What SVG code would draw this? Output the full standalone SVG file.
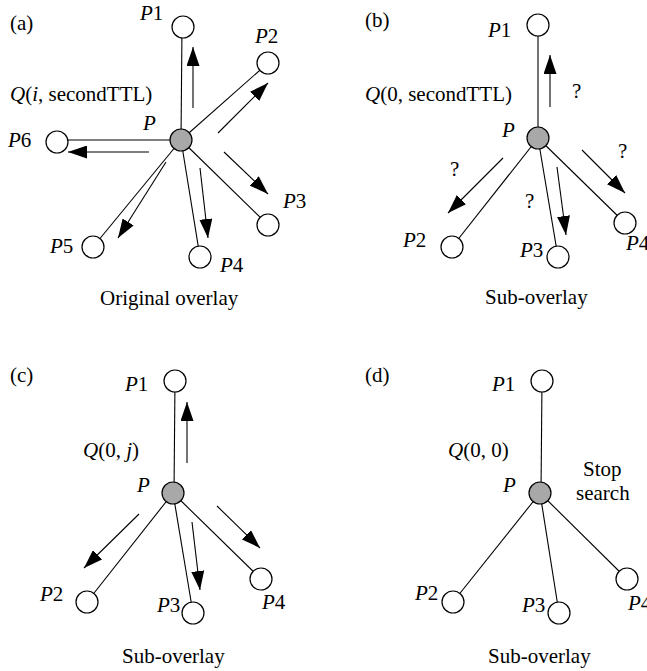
<svg xmlns="http://www.w3.org/2000/svg" width="647" height="671" viewBox="0 0 647 671">
  <defs>
    <marker id="head" markerUnits="userSpaceOnUse" markerWidth="19" markerHeight="13" refX="19" refY="6.5" orient="auto">
      <path d="M0,0 L19,6.5 L0,13 Z" fill="#000"/>
    </marker>
  </defs>
  <style>
    text { font-family: 'Liberation Serif', 'DejaVu Serif', serif; font-size: 21px; fill: #000; }
    .it { font-style: italic; }
    .edge { stroke: #000; stroke-width: 1.1; fill: none; }
    .msg { stroke: #000; stroke-width: 1.1; fill: none; marker-end: url(#head); }
    .peer { fill: #fff; stroke: #000; stroke-width: 1.2; }
    .hub { fill: #a8a8a8; stroke: #000; stroke-width: 1.2; }
  </style>
  <rect width="647" height="671" fill="#fff"/>

  <!-- (a) Original overlay -->
  <g id="panel-a" font-family="Liberation Serif, serif">
    <g id="a-connectors">
      <line class="edge" x1="181" y1="140" x2="182" y2="27"/>
      <line class="edge" x1="181" y1="140" x2="268" y2="63"/>
      <line class="edge" x1="181" y1="140" x2="57" y2="140"/>
      <line class="edge" x1="181" y1="140" x2="268" y2="225"/>
      <line class="edge" x1="181" y1="140" x2="200" y2="257"/>
      <line class="edge" x1="181" y1="140" x2="93" y2="247"/>
      <line class="msg" x1="193" y1="108" x2="193" y2="47"/>
      <line class="msg" x1="218" y1="133" x2="268" y2="83"/>
      <line class="msg" x1="149" y1="152" x2="68" y2="152"/>
      <line class="msg" x1="224" y1="152" x2="268" y2="194"/>
      <line class="msg" x1="200" y1="168" x2="208" y2="238"/>
      <line class="msg" x1="166" y1="162" x2="118" y2="238"/>
    </g>
    <g id="a-P"><circle class="hub" cx="181" cy="140" r="11"/><text class="it" x="143" y="130">P</text></g>
    <g id="a-P1"><circle class="peer" cx="183" cy="27" r="11"/><text x="140" y="20"><tspan class="it">P</tspan>1</text></g>
    <g id="a-P2"><circle class="peer" cx="268" cy="63" r="11"/><text x="255" y="43"><tspan class="it">P</tspan>2</text></g>
    <g id="a-P3"><circle class="peer" cx="268" cy="225" r="11"/><text x="283" y="208"><tspan class="it">P</tspan>3</text></g>
    <g id="a-P4"><circle class="peer" cx="200" cy="257" r="11"/><text x="220" y="272"><tspan class="it">P</tspan>4</text></g>
    <g id="a-P5"><circle class="peer" cx="93" cy="247" r="11"/><text x="50" y="253"><tspan class="it">P</tspan>5</text></g>
    <g id="a-P6"><circle class="peer" cx="57" cy="142" r="11"/><text x="8" y="147"><tspan class="it">P</tspan>6</text></g>
    <text x="10" y="30">(a)</text>
    <text x="10" y="101"><tspan class="it">Q</tspan>(<tspan class="it">i</tspan>, secondTTL)</text>
    <text x="100" y="305">Original overlay</text>
  </g>

  <!-- (b) Sub-overlay, second TTL -->
  <g id="panel-b">
    <g id="b-connectors">
      <line class="edge" x1="538" y1="138" x2="538" y2="25"/>
      <line class="edge" x1="538" y1="138" x2="452" y2="247"/>
      <line class="edge" x1="538" y1="138" x2="558" y2="257"/>
      <line class="edge" x1="538" y1="138" x2="625" y2="223"/>
      <line class="msg" x1="550" y1="107" x2="550" y2="55"/>
      <line class="msg" x1="503" y1="158" x2="448" y2="213"/>
      <line class="msg" x1="557" y1="167" x2="566" y2="235"/>
      <line class="msg" x1="582" y1="150" x2="625" y2="193"/>
    </g>
    <g id="b-P"><circle class="hub" cx="538" cy="138" r="11"/><text class="it" x="502" y="137">P</text></g>
    <g id="b-P1"><circle class="peer" cx="538" cy="25" r="11"/><text x="488" y="37"><tspan class="it">P</tspan>1</text></g>
    <g id="b-P2"><circle class="peer" cx="452" cy="247" r="11"/><text x="403" y="247"><tspan class="it">P</tspan>2</text></g>
    <g id="b-P3"><circle class="peer" cx="558" cy="257" r="11"/><text x="520" y="257"><tspan class="it">P</tspan>3</text></g>
    <g id="b-P4"><circle class="peer" cx="625" cy="223" r="11"/><text x="626" y="250"><tspan class="it">P</tspan>4</text></g>
    <text x="365" y="27">(b)</text>
    <text x="365" y="101"><tspan class="it">Q</tspan>(0, secondTTL)</text>
    <text x="572" y="98">?</text>
    <text x="450" y="176">?</text>
    <text x="525" y="208">?</text>
    <text x="618" y="158">?</text>
    <text x="485" y="304">Sub-overlay</text>
  </g>

  <!-- (c) Sub-overlay, TTL j -->
  <g id="panel-c">
    <g id="c-connectors">
      <line class="edge" x1="174" y1="493" x2="175" y2="381"/>
      <line class="edge" x1="173" y1="493" x2="87" y2="602"/>
      <line class="edge" x1="173" y1="493" x2="193" y2="613"/>
      <line class="edge" x1="173" y1="493" x2="261" y2="579"/>
      <line class="msg" x1="187" y1="463" x2="187" y2="402"/>
      <line class="msg" x1="139" y1="514" x2="84" y2="568"/>
      <line class="msg" x1="192" y1="522" x2="200" y2="590"/>
      <line class="msg" x1="217" y1="506" x2="260" y2="548"/>
    </g>
    <g id="c-P"><circle class="hub" cx="173" cy="493" r="11"/><text class="it" x="137" y="492">P</text></g>
    <g id="c-P1"><circle class="peer" cx="175" cy="381" r="11"/><text x="125" y="391"><tspan class="it">P</tspan>1</text></g>
    <g id="c-P2"><circle class="peer" cx="87" cy="602" r="11"/><text x="40" y="601"><tspan class="it">P</tspan>2</text></g>
    <g id="c-P3"><circle class="peer" cx="193" cy="613" r="11"/><text x="157" y="612"><tspan class="it">P</tspan>3</text></g>
    <g id="c-P4"><circle class="peer" cx="261" cy="579" r="11"/><text x="262" y="609"><tspan class="it">P</tspan>4</text></g>
    <text x="10" y="382">(c)</text>
    <text x="83" y="457"><tspan class="it">Q</tspan>(0, <tspan class="it">j</tspan>)</text>
    <text x="122" y="663">Sub-overlay</text>
  </g>

  <!-- (d) Sub-overlay, TTL exhausted -->
  <g id="panel-d">
    <g id="d-connectors">
      <line class="edge" x1="541" y1="493" x2="542" y2="381"/>
      <line class="edge" x1="540" y1="493" x2="453" y2="602"/>
      <line class="edge" x1="540" y1="493" x2="559" y2="613"/>
      <line class="edge" x1="540" y1="493" x2="627" y2="579"/>
    </g>
    <g id="d-P"><circle class="hub" cx="540" cy="493" r="11"/><text class="it" x="503" y="492">P</text></g>
    <g id="d-P1"><circle class="peer" cx="542" cy="381" r="11"/><text x="492" y="391"><tspan class="it">P</tspan>1</text></g>
    <g id="d-P2"><circle class="peer" cx="453" cy="602" r="11"/><text x="415" y="600"><tspan class="it">P</tspan>2</text></g>
    <g id="d-P3"><circle class="peer" cx="559" cy="613" r="11"/><text x="522" y="612"><tspan class="it">P</tspan>3</text></g>
    <g id="d-P4"><circle class="peer" cx="627" cy="579" r="11"/><text x="628" y="610"><tspan class="it">P</tspan>4</text></g>
    <text x="365" y="382">(d)</text>
    <text x="448" y="457"><tspan class="it">Q</tspan>(0, 0)</text>
    <text x="583" y="476">Stop</text>
    <text x="576" y="500">search</text>
    <text x="488" y="663">Sub-overlay</text>
  </g>
</svg>
